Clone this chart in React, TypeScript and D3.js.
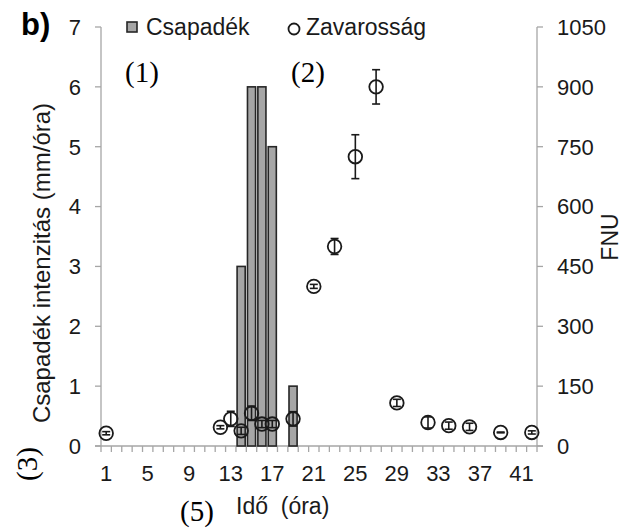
import React from "react";
import * as d3 from "d3";

const hours = [1,2,3,4,5,6,7,8,9,10,11,12,13,14,15,16,17,18,19,20,21,22,23,24,25,26,27,28,29,30,31,32,33,34,35,36,37,38,39,40,41,42];
const hourLabels = [1,5,9,13,17,21,25,29,33,37,41];

const rainHours = [14, 15, 16, 17, 19];
const rainValues = [3, 6, 6, 5, 1];

const turbHours = [1, 12, 13, 14, 15, 16, 17, 19, 21, 23, 25, 27, 29, 32, 34, 36, 39, 42];
const turbValues = [32, 47, 68, 38, 82, 55, 55, 68, 400, 500, 725, 900, 108, 59, 51, 48, 34, 34];
const turbErrors = [4, 4, 19, 9, 18, 9, 9, 18, 5, 20, 55, 43, 9, 14, 9, 9, 1, 4];

const leftTicks = [0, 1, 2, 3, 4, 5, 6, 7];
const rightTicks = [0, 150, 300, 450, 600, 750, 900, 1050];

const W = 623, H = 528;
const L = 101, R = 537, B = 446, T = 27;
const SANS = "'Liberation Sans', Arial, sans-serif";
const SERIF = "'Liberation Serif', 'Times New Roman', serif";
const AXIS = "#a6a6a6";
const INK = "#1a1a1a";

export default function App() {
  const x = d3.scaleBand<number>().domain(hours).range([L, R]).paddingInner(0.22).paddingOuter(0.11);
  const xb = d3.scaleBand<number>().domain(hours).range([L, R]);
  const yl = d3.scaleLinear().domain([0, 7]).range([B, T]);
  const yr = d3.scaleLinear().domain([0, 1050]).range([B, T]);
  const cx = (h: number) => (xb(h) as number) + xb.bandwidth() / 2;
  const boundaries = hours.map((h) => xb(h) as number).concat([R]);

  return (
    <svg width={W} height={H} style={{ position: "absolute", left: 0, top: 0, background: "#fff" }}>
      <rect width={W} height={H} fill="#fff" />
      {/* axes */}
      <line x1={L} x2={L} y1={T} y2={B} stroke={AXIS} strokeWidth={1.3} />
      <line x1={R} x2={R} y1={T} y2={B} stroke={AXIS} strokeWidth={1.3} />
      <line x1={L - 6} x2={R + 6} y1={B} y2={B} stroke={AXIS} strokeWidth={1.3} />
      {leftTicks.map((t) => (
        <g key={"l" + t}>
          <line x1={L - 6} x2={L} y1={yl(t)} y2={yl(t)} stroke={AXIS} strokeWidth={1.3} />
          <text x={81} y={yl(t)} dy="0.36em" textAnchor="end" fontFamily={SANS} fontSize={22} fill={INK}>{t}</text>
        </g>
      ))}
      {rightTicks.map((t) => (
        <g key={"r" + t}>
          <line x1={R} x2={R + 6} y1={yr(t)} y2={yr(t)} stroke={AXIS} strokeWidth={1.3} />
          <text x={557} y={yr(t)} dy="0.36em" textAnchor="start" fontFamily={SANS} fontSize={22} fill={INK}>{t}</text>
        </g>
      ))}
      {boundaries.map((bx, i) => (
        <line key={"xt" + i} x1={bx} x2={bx} y1={B} y2={B + 6} stroke={AXIS} strokeWidth={1.3} />
      ))}
      {hourLabels.map((h) => (
        <text key={"xl" + h} x={cx(h)} y={481} textAnchor="middle" fontFamily={SANS} fontSize={22} fill={INK}>{h}</text>
      ))}
      {/* bars */}
      {rainHours.map((h, i) => (
        <rect key={"b" + h} x={x(h)} y={yl(rainValues[i])} width={x.bandwidth()} height={B - yl(rainValues[i])}
          fill="#a6a6a6" stroke="#262626" strokeWidth={1.6} />
      ))}
      {/* turbidity */}
      {turbHours.map((h, i) => {
        const v = turbValues[i], e = turbErrors[i];
        const px = cx(h);
        return (
          <g key={"t" + h} stroke={INK} fill="none">
            <line x1={px} x2={px} y1={yr(v - e)} y2={yr(v + e)} strokeWidth={1.6} />
            <line x1={px - 4} x2={px + 4} y1={yr(v - e)} y2={yr(v - e)} strokeWidth={1.6} />
            <line x1={px - 4} x2={px + 4} y1={yr(v + e)} y2={yr(v + e)} strokeWidth={1.6} />
            <circle cx={px} cy={yr(v)} r={6.8} strokeWidth={1.8} />
          </g>
        );
      })}
      {/* legend */}
      <rect x={127} y={22} width={10} height={10} fill="#a6a6a6" stroke="#262626" strokeWidth={1.6} />
      <text x={146} y={35} fontFamily={SANS} fontSize={23} fill={INK}>Csapadék</text>
      <circle cx={294} cy={29} r={5.5} fill="none" stroke={INK} strokeWidth={1.8} />
      <text x={306} y={35} fontFamily={SANS} fontSize={23} fill={INK}>Zavarosság</text>
      {/* titles */}
      <text x={21} y={35} fontFamily={SANS} fontSize={31} fontWeight="bold" fill="#000">b)</text>
      <text transform={`translate(50,263) rotate(-90)`} textAnchor="middle" fontFamily={SANS} fontSize={24} fill={INK}>Csapadék intenzitás (mm/óra)</text>
      <text transform={`translate(618,237) rotate(-90)`} textAnchor="middle" fontFamily={SANS} fontSize={23} fill={INK}>FNU</text>
      <text x={236} y={514} fontFamily={SANS} fontSize={23} fill={INK} xmlSpace="preserve" style={{ whiteSpace: "pre" }}>Idő  (óra)</text>
      {/* annotations */}
      <text x={125} y={82} fontFamily={SERIF} fontSize={29} fill="#000">(1)</text>
      <text x={291} y={82} fontFamily={SERIF} fontSize={29} fill="#000">(2)</text>
      <text transform={`translate(37,464) rotate(-90)`} textAnchor="middle" fontFamily={SERIF} fontSize={29} fill="#000">(3)</text>
      <text x={180} y={521} fontFamily={SERIF} fontSize={29} fill="#000">(5)</text>
    </svg>
  );
}
